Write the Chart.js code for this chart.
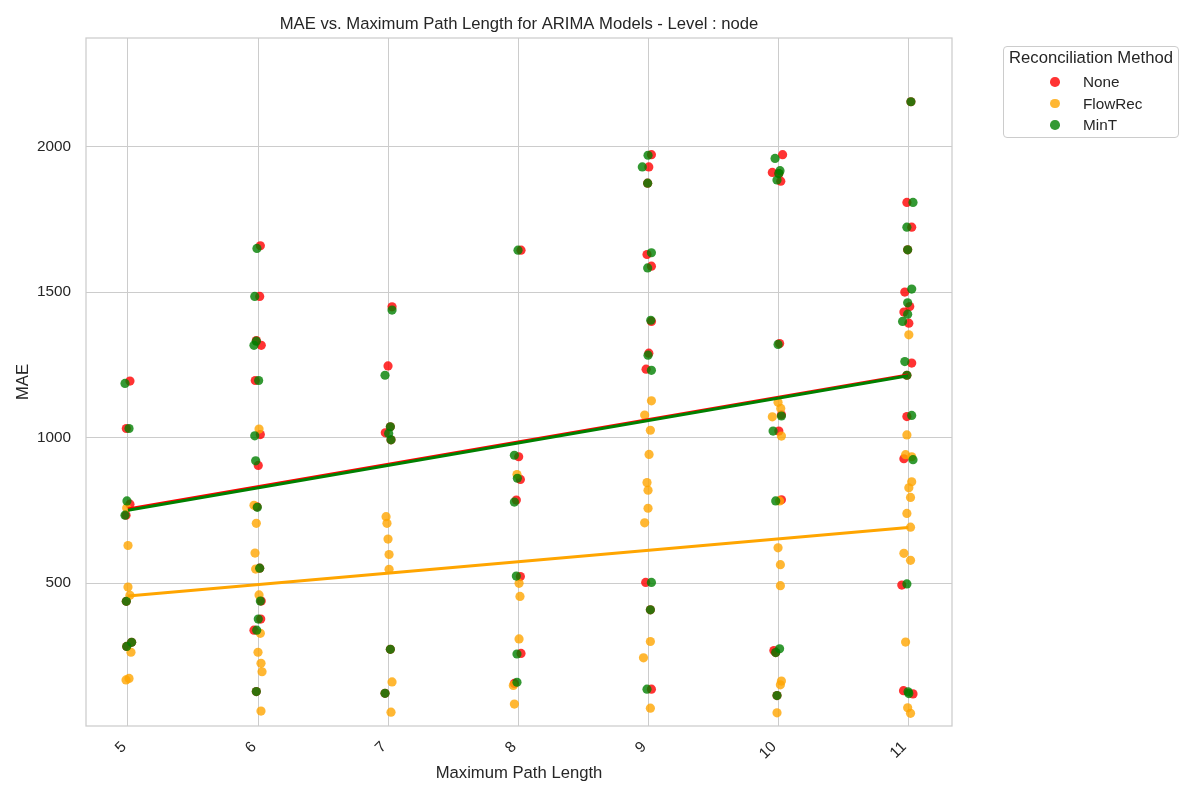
<!DOCTYPE html>
<html><head><meta charset="utf-8">
<script src="https://cdn.jsdelivr.net/npm/chart.js@4.4.0/dist/chart.umd.min.js"></script>
<style>
html,body{margin:0;padding:0;background:#fff;}
#wrap{position:relative;width:1200px;height:800px;font-family:"Liberation Sans",Arial,sans-serif;color:#262626;}
#legend{position:absolute;left:1003px;top:46px;width:176px;height:92px;border:1px solid #cccccc;border-radius:4px;box-sizing:border-box;background:#fff;}
.lt{position:absolute;left:1003px;width:176px;top:48px;text-align:center;font-size:16.67px;line-height:20px;}
.mk{position:absolute;width:9.6px;height:9.6px;border-radius:50%;}
.tx{position:absolute;left:1083px;font-size:15.3px;line-height:18px;}
</style></head>
<body>
<div id="wrap">
<canvas id="c" width="1200" height="800"></canvas>
<div id="legend"></div>
<div class="lt">Reconciliation Method</div>
<div class="mk" style="left:1050.2px;top:77.2px;background:rgba(255,0,0,0.8)"></div><div class="tx" style="top:73px">None</div>
<div class="mk" style="left:1050.2px;top:98.7px;background:rgba(255,165,0,0.8)"></div><div class="tx" style="top:94.5px">FlowRec</div>
<div class="mk" style="left:1050.2px;top:120.2px;background:rgba(0,128,0,0.8)"></div><div class="tx" style="top:116px">MinT</div>
</div>
<script>
const categories = [5, 6, 7, 8, 9, 10, 11];
const yTickValues = [500, 1000, 1500, 2000];

const noneX = [5.015,4.987,5.015,4.985,4.987,5.028,4.990, 6.018,6.013,5.987,6.025,5.979,6.018,6.002,5.992,6.013,6.025,6.021,5.969,5.987, 7.031,7.000,7.018,6.979,7.023,7.018,6.977, 8.023,8.005,8.018,7.987,8.018,8.023,7.972, 9.026,9.006,8.997,8.992,9.026,9.026,9.006,8.985,8.982,9.018,9.026, 10.035,9.956,10.006,10.021,10.012,10.026,10.006,10.026,9.968,9.982,9.992, 11.022,10.991,11.028,10.997,10.975,11.013,10.968,11.006,11.028,10.991,10.991,10.968,10.952,10.965,11.038];
const noneY = [1194,1031,771,733,437,296,282, 1659,1485,1333,1317,1196,1010,904,762,551,438,376,338,127, 1449,1246,1037,1016,992,272,121, 1644,934,856,785,522,258,155, 1972,1930,1874,1629,1589,1399,1290,1235,502,408,135, 1972,1911,1907,1881,1323,1078,1022,786,268,261,113, 2154,1808,1723,1645,1500,1450,1431,1393,1256,1214,1072,927,493,130,119];

const flowRecX = [4.990,5.000,5.000,5.015,5.023,5.008,4.985, 6.008,5.969,5.987,5.977,5.982,6.008,6.018,6.000,6.023,6.031,6.023, 6.985,6.992,7.000,7.008,7.008,7.031,7.023, 7.992,8.008,8.015,8.008,7.964,7.972, 9.026,8.974,9.018,9.008,8.992,9.000,9.000,8.974,9.018,8.965,9.018, 10.000,10.021,9.956,10.026,10.012,10.000,10.018,10.018,10.026,10.018,9.992, 11.006,10.991,10.981,11.028,11.028,11.006,11.019,10.991,11.019,10.968,11.019,10.981,10.997,11.019];
const flowRecY = [758,629,486,458,262,172,167, 1029,767,705,603,548,459,327,262,224,195,60, 728,705,651,598,547,160,56, 873,499,454,308,148,84, 1126,1077,1025,942,845,819,757,707,299,243,70, 1121,1100,1071,1005,782,621,563,491,163,150,54, 1353,1009,941,934,848,827,794,739,692,602,578,297,71,52];

const minTX = [4.977,5.008,4.992,4.977,4.987,5.028,4.990, 5.992,5.975,5.987,5.969,6.005,5.975,5.982,5.995,6.013,6.018,6.002,5.990,5.987, 7.031,6.977,7.018,7.005,7.023,7.018,6.977, 8.000,7.972,7.995,7.972,7.987,7.992,7.992, 9.000,8.956,8.997,9.026,8.997,9.021,9.000,9.026,9.026,9.018,8.992, 9.977,10.015,10.006,9.992,10.000,10.026,9.962,9.982,10.012,9.982,9.992, 11.022,11.038,10.991,10.997,11.028,10.997,10.997,10.958,10.975,10.991,11.028,11.038,10.991,11.000,11.006];
const minTY = [1186,1031,782,733,437,296,282, 1650,1485,1331,1317,1196,1006,920,760,551,438,376,338,127, 1438,1214,1037,1014,992,272,121, 1644,939,860,778,524,256,159, 1970,1930,1874,1635,1583,1403,1283,1231,502,408,135, 1959,1917,1907,1885,1320,1074,1022,782,274,261,113, 2154,1808,1723,1645,1510,1463,1424,1399,1261,1214,1076,924,497,126,120];

// fitted trend lines (values read at x = 5 and x = 11)
const fitX = [5, 11];
const noneFit = [754, 1215];
const flowRecFit = [455, 691];
const minTFit = [750, 1212];

const FONT = '"Liberation Sans", Arial, sans-serif';
const TXT = '#262626';
const zip = (xs, ys) => xs.map((x, i) => ({x: x, y: ys[i]}));

const frame = {
  id: 'frame',
  afterDraw(chart) {
    const a = chart.chartArea, c = chart.ctx;
    c.save();
    c.strokeStyle = '#cccccc';
    c.lineWidth = 1.25;
    c.strokeRect(a.left, a.top, a.right - a.left, a.bottom - a.top);
    c.restore();
  }
};

function scatterDs(label, xs, ys, color, order) {
  return {label: label, type: 'scatter', data: zip(xs, ys), backgroundColor: color,
    borderWidth: 0, pointRadius: 4.6, pointHoverRadius: 4.6, order: order};
}
function lineDs(label, ys, color, order) {
  return {label: label, type: 'line', data: zip(fitX, ys), borderColor: color, borderWidth: 3,
    pointRadius: 0, fill: false, showLine: true, order: order, borderCapStyle: 'butt'};
}

new Chart(document.getElementById('c').getContext('2d'), {
  type: 'scatter',
  data: {
    datasets: [
      scatterDs('None', noneX, noneY, 'rgba(255,0,0,0.8)', 5),
      scatterDs('FlowRec', flowRecX, flowRecY, 'rgba(255,165,0,0.8)', 4),
      scatterDs('MinT', minTX, minTY, 'rgba(0,128,0,0.8)', 3),
      lineDs('None fit', noneFit, '#ff0000', 2),
      lineDs('FlowRec fit', flowRecFit, '#ffa500', 1),
      lineDs('MinT fit', minTFit, '#008000', 0)
    ]
  },
  options: {
    responsive: false,
    animation: false,
    devicePixelRatio: 1,
    layout: {padding: {left: 0, right: 248, top: 0, bottom: 0}},
    plugins: {
      legend: {display: false},
      tooltip: {enabled: false},
      title: {
        display: true, fullSize: false,
        text: 'MAE vs. Maximum Path Length for ARIMA Models - Level : node',
        font: {family: FONT, size: 16.67, weight: 'normal'}, color: TXT,
        padding: {top: 14, bottom: 4}
      }
    },
    scales: {
      x: {
        type: 'linear', min: 4.677, max: 11.338,
        afterBuildTicks: s => { s.ticks = categories.map(v => ({value: v})); },
        afterFit: s => { s.height = 74; },
        grid: {color: '#cccccc', lineWidth: 1, drawTicks: false},
        border: {display: false},
        ticks: {font: {family: FONT, size: 15.3}, color: TXT, minRotation: 45, maxRotation: 45,
          autoSkip: false, padding: 12, labelOffset: -4, callback: v => String(v)},
        title: {display: true, text: 'Maximum Path Length', font: {family: FONT, size: 16.67},
          color: TXT, padding: {top: 0, bottom: 17}}
      },
      y: {
        type: 'linear', min: 8.6, max: 2373,
        afterBuildTicks: s => { s.ticks = yTickValues.map(v => ({value: v})); },
        afterFit: s => { s.width = 86; },
        grid: {color: '#cccccc', lineWidth: 1, drawTicks: false},
        border: {display: false},
        ticks: {font: {family: FONT, size: 15.3}, color: TXT, padding: 15, callback: v => String(v)},
        title: {display: true, text: 'MAE', font: {family: FONT, size: 16.67},
          color: TXT, padding: {top: 13.3, bottom: 0}}
      }
    }
  },
  plugins: [frame]
});
</script>
</body></html>
